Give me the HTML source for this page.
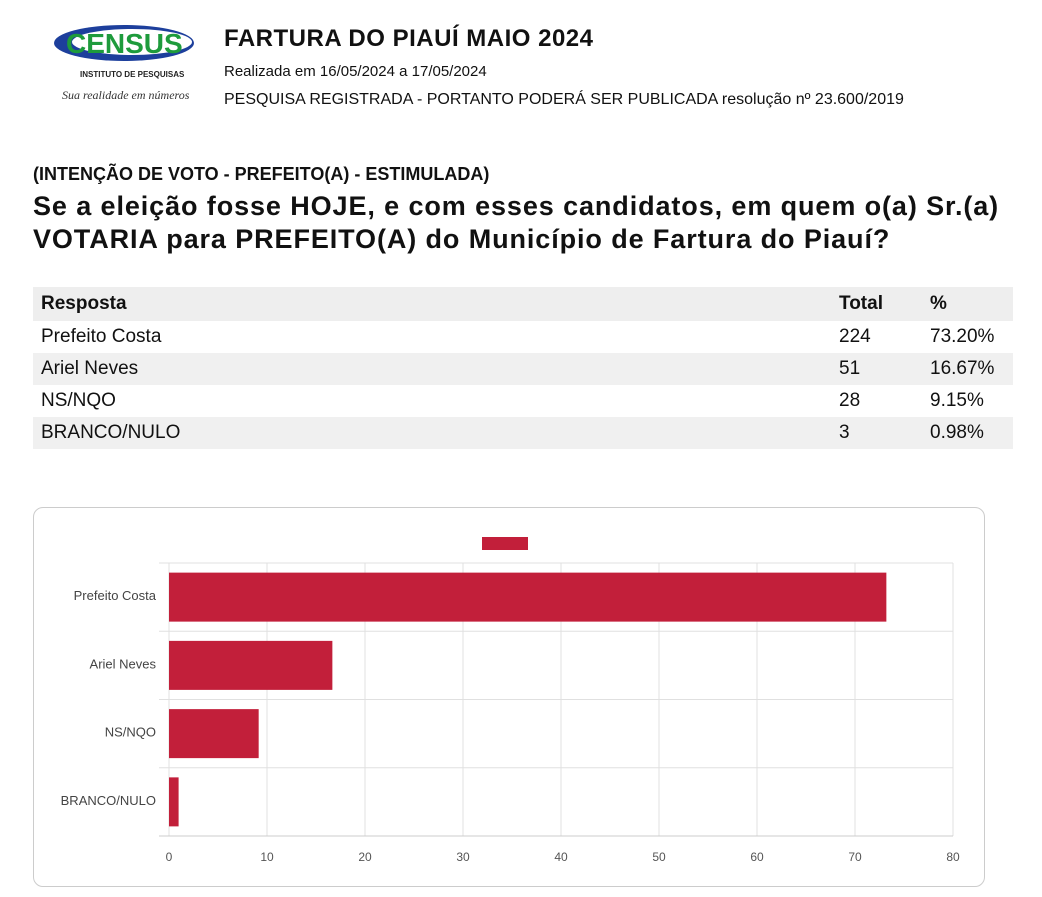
<!DOCTYPE html>
<html><head><meta charset="utf-8"><style>
body{margin:0;width:1042px;height:897px;background:#fff;font-family:"Liberation Sans",sans-serif;color:#111;position:relative;overflow:hidden}
.a{position:absolute;white-space:nowrap}
table{position:absolute;left:33px;top:287px;width:980px;border-collapse:collapse;font-size:19px}
td{height:32px;padding:0 0 0 8px}
tr.h td{font-weight:bold;height:34px;background:#eee}
tr.g td{background:#f0f0f0}
</style></head><body>
<svg class="a" style="left:52px;top:20px" width="145" height="64">
<ellipse cx="72" cy="23" rx="70" ry="18" fill="#1d3f9c"/>
<ellipse cx="80" cy="22" rx="60" ry="13" fill="#fff"/>
<text x="14" y="33" font-family="Liberation Sans" font-weight="bold" font-size="28" fill="#1e9b3c">CENSUS</text>
<text x="28" y="57" font-family="Liberation Sans" font-weight="bold" font-size="8" fill="#222">INSTITUTO DE PESQUISAS</text>
</svg>
<div class="a" style="left:62px;top:88px;font-family:'Liberation Serif',serif;font-style:italic;font-size:12px;color:#333">Sua realidade em números</div>
<div class="a" style="left:224px;top:25px;font-size:24px;font-weight:bold;letter-spacing:0.5px">FARTURA DO PIAUÍ MAIO 2024</div>
<div class="a" style="left:224px;top:63px;font-size:15px">Realizada em 16/05/2024 a 17/05/2024</div>
<div class="a" style="left:224px;top:91px;font-size:16px">PESQUISA REGISTRADA - PORTANTO PODERÁ SER PUBLICADA resolução nº 23.600/2019</div>
<div class="a" style="left:33px;top:164px;font-size:18px;font-weight:bold">(INTENÇÃO DE VOTO - PREFEITO(A) - ESTIMULADA)</div>
<div class="a" style="left:33px;top:190px;font-size:27px;line-height:33px;font-weight:bold;letter-spacing:0.9px">Se a eleição fosse HOJE, e com esses candidatos, em quem o(a) Sr.(a)<br>VOTARIA para PREFEITO(A) do Município de Fartura do Piauí?</div>
<table>
<tr class="h"><td>Resposta</td><td style="width:83px">Total</td><td style="width:83px">%</td></tr>
<tr><td>Prefeito Costa</td><td>224</td><td>73.20%</td></tr>
<tr class="g"><td>Ariel Neves</td><td>51</td><td>16.67%</td></tr>
<tr><td>NS/NQO</td><td>28</td><td>9.15%</td></tr>
<tr class="g"><td>BRANCO/NULO</td><td>3</td><td>0.98%</td></tr>
</table>
<div class="a" style="left:33px;top:507px;width:950px;height:378px;border:1px solid #ccc;border-radius:10px"></div>
<svg id="c" class="a" style="left:0;top:0" width="1042" height="897"></svg>
<script>
const categories=["Prefeito Costa","Ariel Neves","NS/NQO","BRANCO/NULO"];
const values=[73.2,16.67,9.15,0.98];
const ticks=[0,10,20,30,40,50,60,70,80];
const X0=169,X1=953,Y0=563,Y1=836,max=80;
const x=v=>X0+(X1-X0)*v/max;
const band=(Y1-Y0)/categories.length;
const svg=document.getElementById('c');
const ns='http://www.w3.org/2000/svg';
function mk(t,a){const e=document.createElementNS(ns,t);for(const k in a)e.setAttribute(k,a[k]);svg.appendChild(e);return e;}
ticks.forEach(t=>{
 const l=mk('line',{x1:x(t),x2:x(t),y1:Y0,y2:Y1,stroke:'#e0e0e0'});
 
 
 const tx=mk('text',{x:x(t),y:Y1+25,'text-anchor':'middle','font-size':12,fill:'#555','font-family':'Liberation Sans'});
 tx.textContent=t;
 
 
});
for(let i=0;i<=categories.length;i++){
 const l=mk('line',{x1:X0-10,x2:X1,y1:Y0+band*i,y2:Y0+band*i,stroke:i==categories.length?'#ccc':'#e0e0e0'});
 
 
}
categories.forEach((c,i)=>{
 const yc=Y0+band*i+band/2;
 const r=mk('rect',{x:X0,y:yc-24.5,width:x(values[i])-X0,height:49,fill:'#c21f3a'});
 
 
 const t=mk('text',{x:X0-13,y:yc+3,'text-anchor':'end','font-size':13,fill:'#444','font-family':'Liberation Sans'});
 t.textContent=c;
 
 
});
const lg=mk('rect',{x:482,y:537,width:46,height:13,fill:'#c21f3a'});


</script>
</body></html>
